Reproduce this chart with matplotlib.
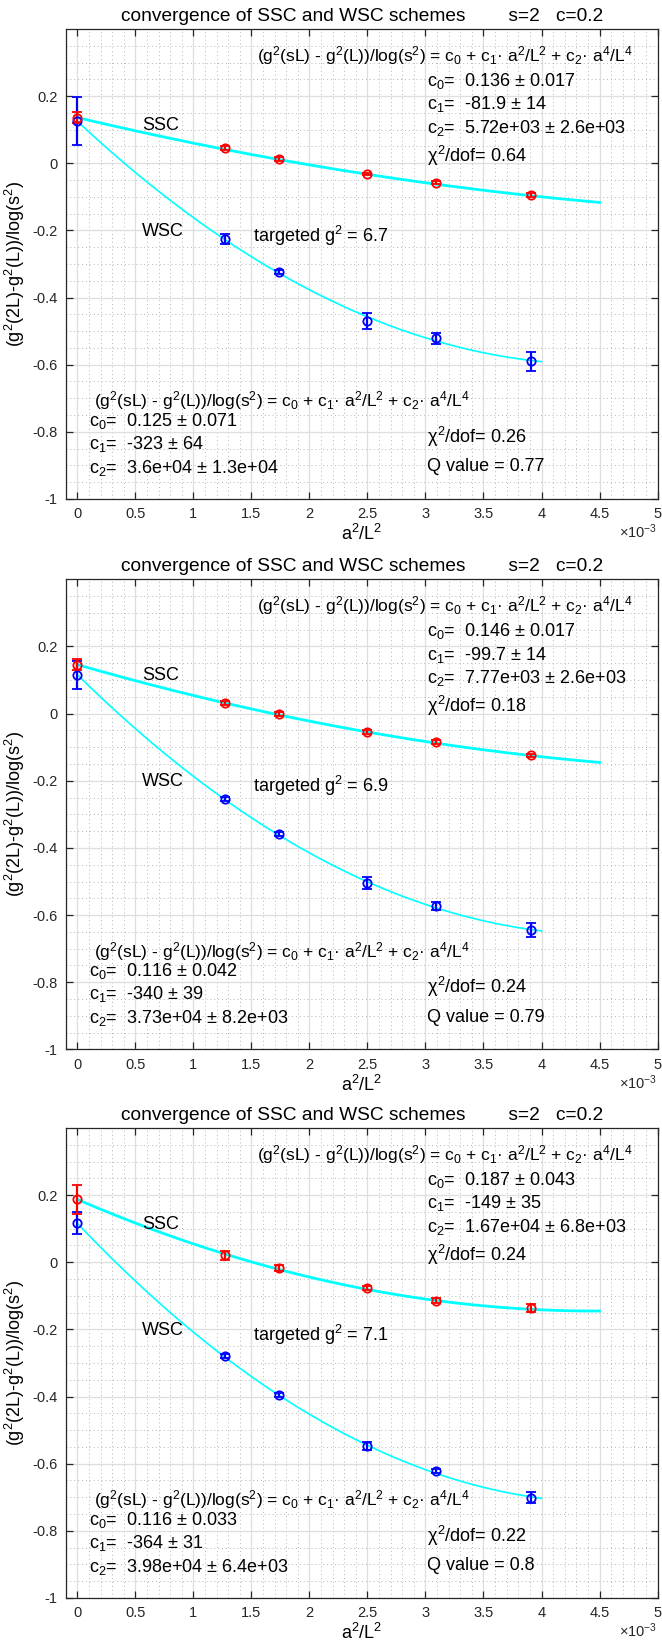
import matplotlib
matplotlib.use("Agg")
import matplotlib.pyplot as plt
from matplotlib.ticker import MultipleLocator, FuncFormatter
import numpy as np

plt.rcParams['font.family'] = ['Liberation Sans', 'DejaVu Sans']
plt.rcParams['mathtext.fontset'] = 'custom'
plt.rcParams['mathtext.rm'] = 'Liberation Sans'
plt.rcParams['mathtext.it'] = 'Liberation Sans'
plt.rcParams['mathtext.bf'] = 'Liberation Sans:bold'

# a^2/L^2 for L = 28, 24, 20, 18, 16
a2L2 = [1 / 784, 1 / 576, 1 / 400, 1 / 324, 1 / 256]

# measured points, one entry per panel
ssc_y = [
    [0.045, 0.013, -0.032, -0.058, -0.095],
    [0.032, -0.001, -0.055, -0.085, -0.124],
    [0.021, -0.018, -0.077, -0.114, -0.136],
]
ssc_err = [
    [0.005, 0.005, 0.004, 0.005, 0.005],
    [0.005, 0.005, 0.005, 0.005, 0.005],
    [0.013, 0.009, 0.007, 0.007, 0.013],
]
wsc_y = [
    [-0.226, -0.323, -0.470, -0.521, -0.590],
    [-0.255, -0.358, -0.505, -0.572, -0.645],
    [-0.279, -0.394, -0.547, -0.622, -0.701],
]
wsc_err = [
    [0.015, 0.006, 0.024, 0.016, 0.028],
    [0.006, 0.005, 0.017, 0.012, 0.020],
    [0.006, 0.006, 0.011, 0.007, 0.016],
]

# fit coefficients c0, c1, c2 and their errors
ssc_c = [[0.136, -81.9, 5.72e3], [0.146, -99.7, 7.77e3], [0.187, -149, 1.67e4]]
ssc_dc = [[0.017, 14, 2.6e3], [0.017, 14, 2.6e3], [0.043, 35, 6.8e3]]
wsc_c = [[0.125, -323, 3.6e4], [0.116, -340, 3.73e4], [0.116, -364, 3.98e4]]
wsc_dc = [[0.071, 64, 1.3e4], [0.042, 39, 8.2e3], [0.033, 31, 6.4e3]]

ssc_chi = ['0.64', '0.18', '0.24']
wsc_chi = ['0.26', '0.24', '0.22']
wsc_q = ['0.77', '0.79', '0.8']
target_g2 = ['6.7', '6.9', '7.1']

ssc_txt = [
    ['0.136 \u00b1 0.017', '-81.9 \u00b1 14', '5.72e+03 \u00b1 2.6e+03'],
    ['0.146 \u00b1 0.017', '-99.7 \u00b1 14', '7.77e+03 \u00b1 2.6e+03'],
    ['0.187 \u00b1 0.043', '-149 \u00b1 35', '1.67e+04 \u00b1 6.8e+03'],
]
wsc_txt = [
    ['0.125 \u00b1 0.071', '-323 \u00b1 64', '3.6e+04 \u00b1 1.3e+04'],
    ['0.116 \u00b1 0.042', '-340 \u00b1 39', '3.73e+04 \u00b1 8.2e+03'],
    ['0.116 \u00b1 0.033', '-364 \u00b1 31', '3.98e+04 \u00b1 6.4e+03'],
]

ssc_fit_end = 4.5e-3
wsc_fit_end = 4.0e-3

eq = ('(g$^2$(sL) - g$^2$(L))/log(s$^2$) = c$_0$ + c$_1$\u00b7 a$^2$/L$^2$'
      ' + c$_2$\u00b7 a$^4$/L$^4$')

FS = 13


def fit_line(c, xmax):
    xx = np.linspace(0, xmax, 200)
    return xx, c[0] + c[1] * xx + c[2] * xx ** 2


def draw_panel(ax, i):
    ax.set_xlim(-0.1e-3, 5e-3)
    ax.set_ylim(-1, 0.4)
    ax.xaxis.set_major_locator(MultipleLocator(0.5e-3))
    ax.xaxis.set_minor_locator(MultipleLocator(0.1e-3))
    ax.set_yticks([-1, -0.8, -0.6, -0.4, -0.2, 0, 0.2])
    ax.yaxis.set_minor_locator(MultipleLocator(0.05))
    ax.xaxis.set_major_formatter(FuncFormatter(lambda v, p: ('%g' % round(v * 1e3, 3))))
    ax.yaxis.set_major_formatter(FuncFormatter(lambda v, p: ('%g' % round(v, 3))))
    ax.grid(True, which='major', color='#dedede', lw=0.9)
    ax.grid(True, which='minor', color='#b5b5b5', lw=0.7, ls=(0, (1, 3)))
    ax.set_axisbelow(True)
    ax.tick_params(which='major', direction='in', length=5, width=0.9,
                   top=True, right=True, labelsize=10.5, colors='#262626', pad=6)
    ax.tick_params(which='minor', length=0)
    for s in ax.spines.values():
        s.set_color('#262626')
        s.set_linewidth(0.9)

    # fits
    xx, yy = fit_line(ssc_c[i], ssc_fit_end)
    ax.plot(xx, yy, color='cyan', lw=2.0, zorder=2)
    xx, yy = fit_line(wsc_c[i], wsc_fit_end)
    ax.plot(xx, yy, color='cyan', lw=1.2, zorder=2)

    # data, with extrapolated c0 at a^2/L^2 = 0
    ax.errorbar([0] + a2L2, [wsc_c[i][0]] + wsc_y[i],
                yerr=[wsc_dc[i][0]] + wsc_err[i], fmt='o', color='blue',
                mfc='none', ms=6, mew=1.3, elinewidth=1.6, capsize=3.5,
                capthick=1.6, zorder=3)
    ax.errorbar([0] + a2L2, [ssc_c[i][0]] + ssc_y[i],
                yerr=[ssc_dc[i][0]] + ssc_err[i], fmt='o', color='red',
                mfc='none', ms=6, mew=1.3, elinewidth=1.6, capsize=3.5,
                capthick=1.6, zorder=3)

    ax.set_title('convergence of SSC and WSC schemes        s=2   c=0.2',
                 fontsize=13.8, pad=6)
    ax.set_xlabel('a$^2$/L$^2$', fontsize=FS, labelpad=2)
    ax.set_ylabel('(g$^2$(2L)-g$^2$(L))/log(s$^2$)', fontsize=FS, labelpad=4)
    ax.text(1.0, -0.07, '\u00d710$^{-3}$', transform=ax.transAxes,
            ha='right', va='center', fontsize=10.5, color='#262626')

    ax.text(0.56e-3, 0.113, 'SSC', fontsize=FS, va='center')
    ax.text(0.56e-3, -0.203, 'WSC', fontsize=FS, va='center')
    ax.text(1.51e-3, -0.216, 'targeted g$^2$ = ' + target_g2[i],
            fontsize=FS, va='center')

    # SSC fit results
    ax.text(1.55e-3, 0.322, eq, fontsize=12.5, va='center')
    for k, yv in enumerate([0.245, 0.175, 0.106]):
        ax.text(3.01e-3, yv, 'c$_%d$=  %s' % (k, ssc_txt[i][k]),
                fontsize=FS, va='center')
    ax.text(3.01e-3, 0.022, '$\\chi^2$/dof= ' + ssc_chi[i], fontsize=FS,
            va='center')

    # WSC fit results
    ax.text(0.14e-3, -0.708, eq, fontsize=12.5, va='center')
    for k, yv in enumerate([-0.768, -0.836, -0.908]):
        ax.text(0.10e-3, yv, 'c$_%d$=  %s' % (k, wsc_txt[i][k]),
                fontsize=FS, va='center')
    ax.text(3.01e-3, -0.815, '$\\chi^2$/dof= ' + wsc_chi[i], fontsize=FS,
            va='center')
    ax.text(3.01e-3, -0.904, 'Q value = ' + wsc_q[i], fontsize=FS,
            va='center')


fig = plt.figure(figsize=(6.62, 16.44), dpi=100)
bottoms = [0.6965, 0.3617, 0.028]
for i, b in enumerate(bottoms):
    ax = fig.add_axes([0.0993, b, 0.894, 0.2859])
    draw_panel(ax, i)

fig.savefig('out.png', dpi=100)
